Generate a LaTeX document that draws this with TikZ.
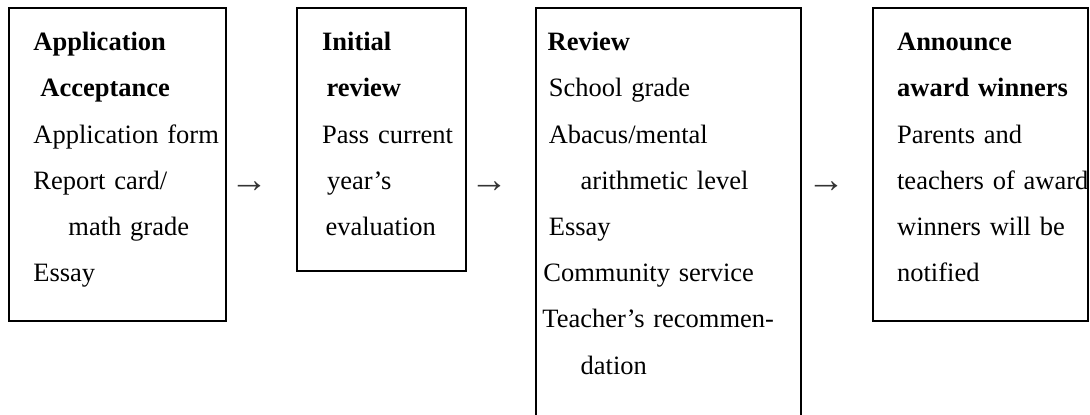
\documentclass[tikz,border=0pt]{standalone}
\usepackage{fontspec}
\setmainfont{Liberation Serif}
\usepackage{tikz}
\usetikzlibrary{positioning}
\tikzset{
    box/.style = {
      draw,
      line width=1pt,
      rectangle,
      inner sep=0pt,
      outer sep=0pt
    },
    boxtext/.style = {
      anchor=base west,
      inner sep=0pt,
      text width=130pt,
      align=left,
      font=\fontsize{13.25pt}{23.1pt}\selectfont
    },
    arrowtext/.style = {
      anchor=base west,
      inner sep=0pt,
      text=black!80,
      font=\fontsize{19pt}{23.1pt}\selectfont
    },
}

\begin{document}
\begin{tikzpicture}
  \path[use as bounding box, clip] (0,0) rectangle (545pt,-207pt);

  \node[box, minimum width=108.35pt, minimum height=156.6pt, anchor=north west] (accept) at (4.5pt,-3.75pt) {};
  \node[box, minimum width=84.35pt, minimum height=131.75pt, right=35.65pt of accept.north east, anchor=north west] (initial) {};
  \node[box, minimum width=132.65pt, minimum height=220pt, right=35pt of initial.north east, anchor=north west] (review) {};
  \node[box, minimum width=107.8pt, minimum height=156.6pt, right=35.85pt of review.north east, anchor=north west] (announce) {};

  % step texts
  \node[boxtext] (acceptText) at ([shift={(12pt,-21.6pt)}]accept.north west) {\textbf{Application}\\
    \hspace*{3.5pt}\textbf{Acceptance}\\
    Application form\\
    Report card/\\
    \hspace*{17.5pt}math grade\\
    Essay};
  \node[boxtext] (initialText) at ([shift={(12.35pt,-21.6pt)}]initial.north west) {\textbf{Initial}\\
    \hspace*{2.2pt}\textbf{review}\\
    Pass current\\
    \hspace*{2.5pt}year's\\
    \hspace*{1.7pt}evaluation};
  \node[boxtext] (reviewText) at ([shift={(3.15pt,-21.6pt)}]review.north west) {\hspace*{2.65pt}\textbf{Review}\\
    \hspace*{3.2pt}School grade\\
    \hspace*{3.2pt}Abacus/mental\\
    \hspace*{19.15pt}arithmetic level\\
    \hspace*{3.2pt}Essay\\
    \hspace*{0.5pt}Community service\\
    Teacher's recommen-\\
    \hspace*{19.15pt}dation};
  \node[boxtext] (announceText) at ([shift={(12pt,-21.6pt)}]announce.north west) {\textbf{Announce}\\
    \textbf{award winners}\\
    Parents and\\
    teachers of award\\
    winners will be\\
    notified};

  % arrows between steps
  \node[arrowtext] (arrowA) at ([shift={(2.05pt,-92.3pt)}]accept.north east) {→};
  \node[arrowtext] (arrowB) at ([shift={(2.05pt,-92.3pt)}]initial.north east) {→};
  \node[arrowtext] (arrowC) at ([shift={(2.9pt,-92.3pt)}]review.north east) {→};
\end{tikzpicture}
\end{document}
